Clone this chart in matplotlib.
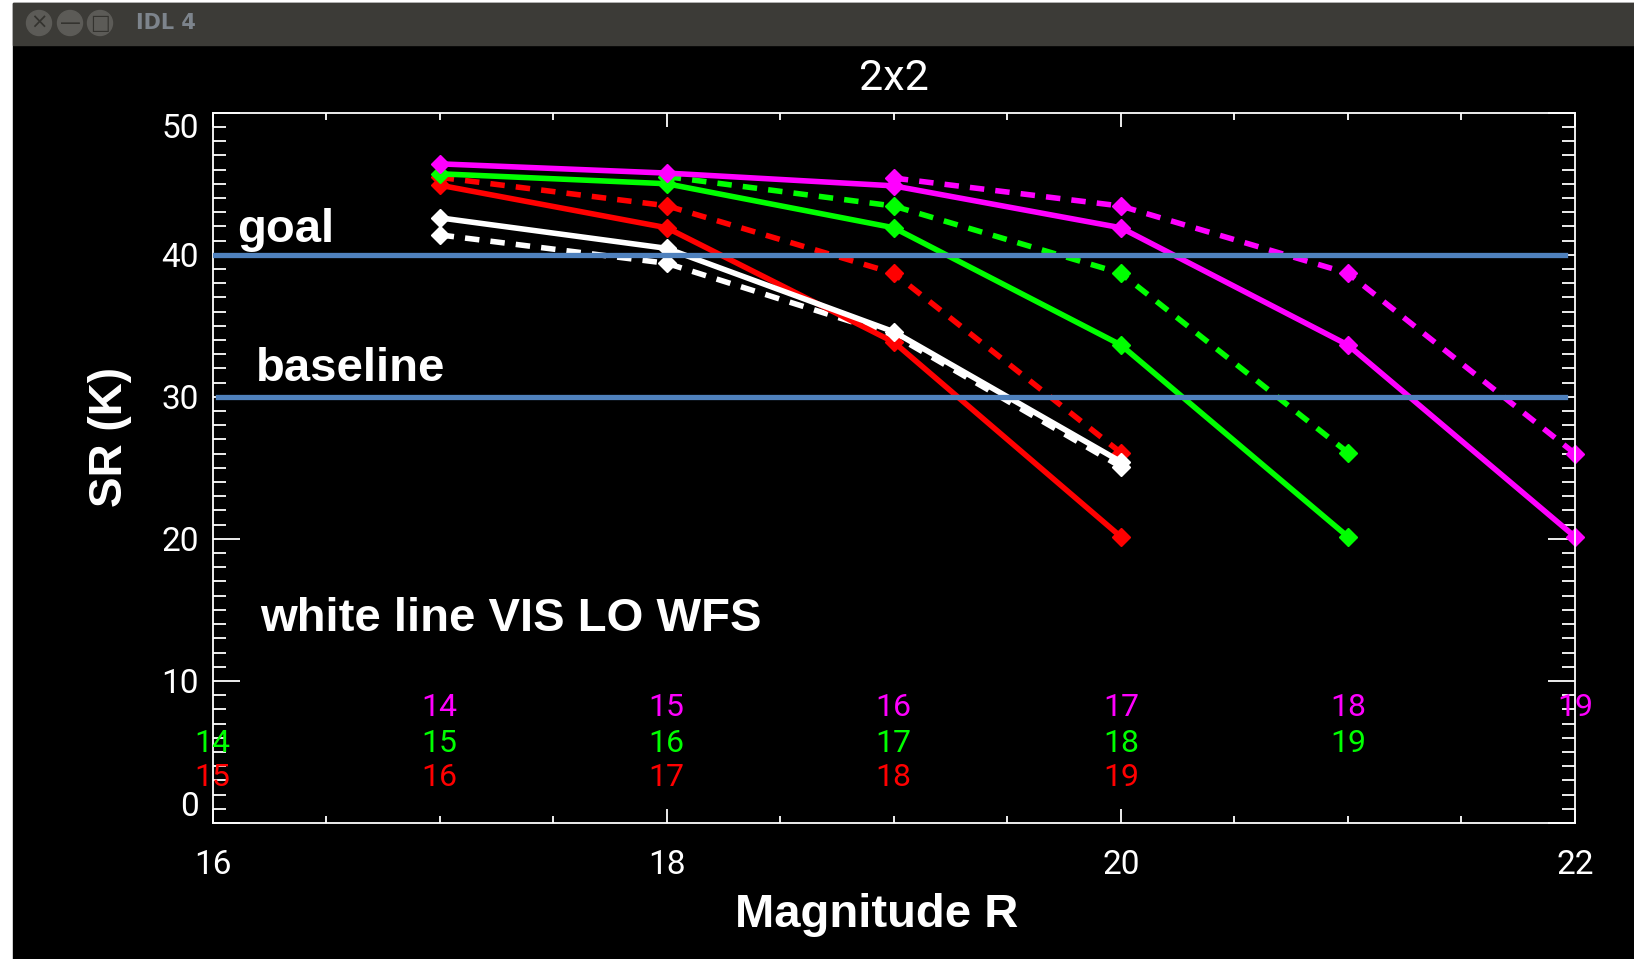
import matplotlib
matplotlib.use("Agg")
import matplotlib.pyplot as plt
from matplotlib.patches import Rectangle, Ellipse
from matplotlib.ticker import MultipleLocator

# magnitudes and Strehl ratios
mag_red = [17, 18, 19, 20]
sr_red = [44.9, 41.9, 33.85, 20.15]
mag_red_d = [17, 18, 19, 20]
sr_red_d = [45.45, 43.45, 38.7, 26.07]

mag_green = [17, 18, 19, 20, 21]
sr_green = [45.7, 45.0, 41.9, 33.65, 20.15]
mag_green_d = [18, 19, 20, 21]
sr_green_d = [45.5, 43.43, 38.7, 26.07]

mag_mag = [17, 18, 19, 20, 21, 22]
sr_mag = [46.4, 45.75, 44.85, 41.9, 33.65, 20.15]
mag_mag_d = [19, 20, 21, 22]
sr_mag_d = [45.4, 43.43, 38.7, 26.0]

mag_white = [17, 18, 19, 20]
sr_white = [42.6, 40.45, 34.58, 25.43]
sr_white_d = [41.4, 39.4, 34.35, 25.08]

goal = 40
baseline = 30

x_ticks = [16, 18, 20, 22]
y_ticks = [0, 10, 20, 30, 40, 50]

# coloured magnitude labels under the curves
lab_mag_x = [17, 18, 19, 20, 21, 22]
lab_mag = ['14', '15', '16', '17', '18', '19']
lab_green_x = [16, 17, 18, 19, 20, 21]
lab_green = ['14', '15', '16', '17', '18', '19']
lab_red_x = [16, 17, 18, 19, 20]
lab_red = ['15', '16', '17', '18', '19']

MAGENTA = '#ff00ff'
GREEN = '#00ff00'
RED = '#ff0000'
BLUE = '#4f81bd'
thin = dict(family=['Roboto', 'DejaVu Sans'], weight='normal')
bold = dict(family=['Liberation Sans', 'DejaVu Sans'], weight='bold')

fig = plt.figure(figsize=(16.34, 9.59), dpi=100, facecolor='white')
W, H = 1634, 959

# window frame: black client area + title bar
fig.patches.append(Rectangle((13 / W, 0), 1 - 13 / W, 1 - 3 / H,
                             transform=fig.transFigure, color='black', zorder=-10))
fig.patches.append(Rectangle((13 / W, 1 - 45 / H), 1 - 13 / W, 42 / H,
                             transform=fig.transFigure, color='#3c3b37', zorder=-9))
for cx in [39, 70, 100]:
    fig.patches.append(Ellipse((cx / W, 1 - 23 / H), 25 / W, 25 / H,
                               transform=fig.transFigure, color='#5c5b57', zorder=-8))
fig.text(136 / W, 1 - 23 / H, 'IDL 4', color='#7d848c', fontsize=15, weight='bold',
         va='center', ha='left', family='DejaVu Sans')
for cx, sym in zip([39, 70, 100], ['×', '—', '□']):
    fig.text(cx / W, 1 - 23 / H, sym, color='#34332f', fontsize=15, ha='center',
             va='center', family='DejaVu Sans')

ax = fig.add_axes([212.6 / W, 1 - 823 / H, 1362.4 / W, 710.3 / H], facecolor='black')
ax.set_zorder(5)

lw = 4.0
dash = (2.6, 2.0)
ms = 9.5
ax.plot(mag_red_d, sr_red_d, color=RED, lw=lw, dashes=dash, marker='D', ms=ms)
ax.plot(mag_green_d, sr_green_d, color=GREEN, lw=lw, dashes=dash, marker='D', ms=ms)
ax.plot(mag_mag_d, sr_mag_d, color=MAGENTA, lw=lw, dashes=dash, marker='D', ms=ms,
        clip_on=False)
ax.plot(mag_white, sr_white_d, color='white', lw=lw, dashes=dash, marker='D', ms=ms)
ax.plot(mag_red, sr_red, color=RED, lw=lw, marker='D', ms=ms)
ax.plot(mag_green, sr_green, color=GREEN, lw=lw, marker='D', ms=ms)
ax.plot(mag_mag, sr_mag, color=MAGENTA, lw=lw, marker='D', ms=ms, clip_on=False)
ax.plot(mag_white, sr_white, color='white', lw=lw, marker='D', ms=ms)

ax.axhline(goal, xmin=0.002, xmax=0.993, color=BLUE, lw=3.8, zorder=5)
ax.axhline(baseline, xmin=0.004, xmax=0.993, color=BLUE, lw=3.8, zorder=5)

for xs, labs, y, c in [(lab_mag_x, lab_mag, 8.1, MAGENTA),
                       (lab_green_x, lab_green, 5.6, GREEN),
                       (lab_red_x, lab_red, 3.2, RED)]:
    for x, t in zip(xs, labs):
        ax.text(x, y, t, color=c, fontsize=23, ha='center', va='center',
                clip_on=False, **thin)

ax.text(16.11, 40.9, 'goal', color='white', fontsize=34, va='baseline', **bold)
ax.text(16.19, 31.1, 'baseline', color='white', fontsize=34, va='baseline', **bold)
ax.text(16.21, 13.5, 'white line VIS LO WFS', color='white', fontsize=34,
        va='baseline', **bold)

ax.set_xlim(16, 22)
ax.set_ylim(0, 50)
ax.set_xticks(x_ticks)
ax.set_yticks(y_ticks)
ax.xaxis.set_minor_locator(MultipleLocator(0.5))
ax.yaxis.set_minor_locator(MultipleLocator(1))
for s in ax.spines.values():
    s.set_color('white')
    s.set_linewidth(1.3)
ax.tick_params(axis='both', which='both', direction='in', colors='white', width=1.3,
               top=True, right=True)
ax.tick_params(axis='x', which='major', length=10.4, pad=19)
ax.tick_params(axis='x', which='minor', length=5.2)
ax.tick_params(axis='y', which='major', length=19.5, pad=10)
ax.tick_params(axis='y', which='minor', length=9.7)
for lab in ax.get_xticklabels() + ax.get_yticklabels():
    lab.set_fontsize(24)
    lab.set_fontfamily(thin['family'])
ylabs = ax.get_yticklabels()
ylabs[0].set_va('bottom')
ylabs[-1].set_va('top')

fig.text(893.8 / W, 1 - 78 / H, '2x2', color='white', fontsize=31, ha='center',
         va='center', **thin)
fig.text(877 / W, 1 - 927 / H, 'Magnitude R', color='white', fontsize=34,
         ha='center', va='baseline', **bold)
fig.text(110 / W, 1 - 437 / H, 'SR (K)', color='white', fontsize=33, ha='center',
         va='center', rotation=90, **bold)

fig.savefig('out.png', dpi=100, facecolor='white')
